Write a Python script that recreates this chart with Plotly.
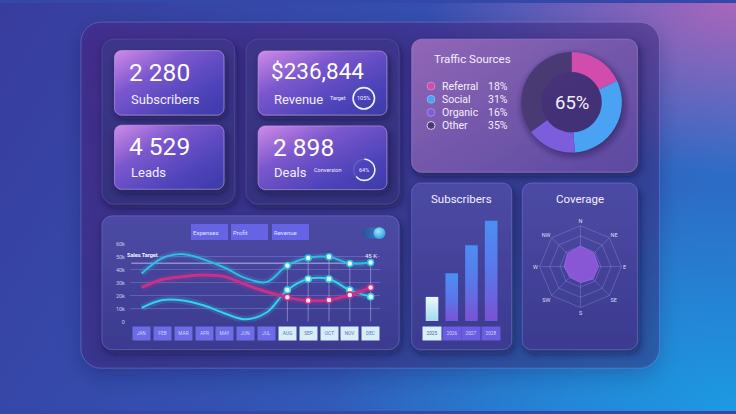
import base64
import plotly.graph_objects as go

W, H = 736, 414

# ---------------- data ----------------
months = ["JAN", "FEB", "MAR", "APR", "MAY", "JUN", "JUL", "AUG", "SEP", "OCT", "NOV", "DEC"]
revenue = [37000, 49000, 52000, 47800, 41500, 33500, 30500, 43300, 49100, 49900, 44800, 45600]
profit = [10600, 16600, 16300, 12400, 6300, 1800, 7000, 24300, 32800, 32800, 24300, 19200]
expenses = [26300, 32400, 34700, 35900, 34700, 28500, 23000, 18700, 16200, 16700, 20500, 26300]
sales_target = 45000
y_tick_vals = [0, 10000, 20000, 30000, 40000, 50000, 60000]
y_tick_text = ["0", "10k", "20k", "30k", "40k", "50k", "60k"]
highlight_start = 7  # AUG..DEC highlighted
series_buttons = ["Expenses", "Profit", "Revenue"]

traffic_labels = ["Referral", "Social", "Organic", "Other"]
traffic_values = [18, 31, 16, 35]
traffic_center = "65%"

years = ["2025", "2026", "2027", "2028"]
subscribers_by_year = [480, 950, 1510, 2000]

directions = ["N", "NE", "E", "SE", "S", "SW", "W", "NW"]
coverage = [50, 46, 44, 43, 39, 37, 40, 45]

kpi_subscribers = "2 280"
kpi_leads = "4 529"
kpi_revenue = "$236,844"
kpi_deals = "2 898"
revenue_target_pct = 105
conversion_pct = 64

# ---------------- helpers ----------------
def px(x):
    return x / W


def py(y):
    return 1 - y / H


FONT = "Roboto, Arial, sans-serif"

# ---------------- decorative background (svg) ----------------
def rr(x, y, w, h, r, fill, extra=""):
    return (f'<rect x="{x}" y="{y}" width="{w}" height="{h}" rx="{r}" ry="{r}" '
            f'fill="{fill}" {extra}/>')


svg = f'''<svg xmlns="http://www.w3.org/2000/svg" width="{W}" height="{H}" viewBox="0 0 {W} {H}">
<defs>
 <linearGradient id="bgLin" x1="0" y1="0" x2="1" y2="0.35">
  <stop offset="0" stop-color="#383c9d"/>
  <stop offset="0.55" stop-color="#3450b1"/>
  <stop offset="1" stop-color="#2d6cc6"/>
 </linearGradient>
 <radialGradient id="bgPink" cx="1" cy="0" r="0.42">
  <stop offset="0" stop-color="#b066bb" stop-opacity="0.95"/>
  <stop offset="1" stop-color="#b066bb" stop-opacity="0"/>
 </radialGradient>
 <radialGradient id="bgBlue" cx="1" cy="1" r="0.55">
  <stop offset="0" stop-color="#1c9ae2" stop-opacity="1"/>
  <stop offset="1" stop-color="#1c9ae2" stop-opacity="0"/>
 </radialGradient>
 <linearGradient id="mainP" x1="0" y1="0" x2="1" y2="1">
  <stop offset="0" stop-color="#4a2888" stop-opacity="0.6"/>
  <stop offset="1" stop-color="#34307a" stop-opacity="0.42"/>
 </linearGradient>
 <linearGradient id="grp" x1="0" y1="0" x2="0" y2="1">
  <stop offset="0" stop-color="#3d3689"/>
  <stop offset="1" stop-color="#35317d"/>
 </linearGradient>
 <linearGradient id="pan" x1="0" y1="0" x2="0" y2="1">
  <stop offset="0" stop-color="#4c4aa4"/>
  <stop offset="1" stop-color="#3b3a8f"/>
 </linearGradient>
 <linearGradient id="traffic" x1="0" y1="0" x2="1" y2="1">
  <stop offset="0" stop-color="#9267b7"/>
  <stop offset="0.5" stop-color="#7357aa"/>
  <stop offset="1" stop-color="#5a4a9f"/>
 </linearGradient>
 <linearGradient id="card" x1="0" y1="0" x2="1" y2="1">
  <stop offset="0" stop-color="#d08ae8"/>
  <stop offset="0.35" stop-color="#7b57cd"/>
  <stop offset="0.7" stop-color="#5044bb"/>
  <stop offset="1" stop-color="#3c3aa8"/>
 </linearGradient>
 <linearGradient id="tog" x1="0" y1="0" x2="1" y2="0">
  <stop offset="0" stop-color="#2c4c9c"/>
  <stop offset="1" stop-color="#3593d0"/>
 </linearGradient>
 <radialGradient id="knob" cx="0.4" cy="0.35" r="0.7">
  <stop offset="0" stop-color="#9fe8ff"/>
  <stop offset="1" stop-color="#2a96dc"/>
 </radialGradient>
 <filter id="sh" x="-30%" y="-30%" width="160%" height="160%">
  <feDropShadow dx="2" dy="4" stdDeviation="4" flood-color="#140c36" flood-opacity="0.55"/>
 </filter>
 <filter id="shBig" x="-20%" y="-20%" width="140%" height="140%">
  <feDropShadow dx="0" dy="8" stdDeviation="10" flood-color="#140c36" flood-opacity="0.45"/>
 </filter>
 <filter id="blur" x="-50%" y="-50%" width="200%" height="200%">
  <feGaussianBlur stdDeviation="3"/>
 </filter>
</defs>
<rect width="{W}" height="{H}" fill="url(#bgLin)"/>
<rect width="{W}" height="{H}" fill="url(#bgPink)"/>
<rect width="{W}" height="{H}" fill="url(#bgBlue)"/>
{rr(81, 19.5, 578.5, 351, 20, "url(#mainP)", 'stroke="#8f8fe6" stroke-opacity="0.35" stroke-width="1" filter="url(#shBig)"')}
{rr(102, 36.7, 132.7, 167.3, 12, "url(#grp)", 'stroke="#6a66c8" stroke-opacity="0.35" filter="url(#sh)"')}
{rr(246, 36.7, 153, 167.3, 12, "url(#grp)", 'stroke="#6a66c8" stroke-opacity="0.35" filter="url(#sh)"')}
{rr(411.7, 36.7, 225.7, 135, 10, "url(#traffic)", 'stroke="#c9a6ff" stroke-opacity="0.35" filter="url(#sh)"')}
{rr(102, 216, 297, 135.7, 10, "url(#pan)", 'stroke="#8f8fff" stroke-opacity="0.35" filter="url(#sh)"')}
{rr(411.7, 182.7, 99.9, 169, 9, "url(#pan)", 'stroke="#8f8fff" stroke-opacity="0.35" filter="url(#sh)"')}
{rr(522.4, 182.7, 115, 169, 9, "url(#pan)", 'stroke="#8f8fff" stroke-opacity="0.35" filter="url(#sh)"')}
{rr(114.5, 48.3, 109.4, 65.4, 7, "url(#card)", 'stroke="#d6b8ff" stroke-opacity="0.45" filter="url(#sh)"')}
{rr(114.5, 124, 109.4, 65, 7, "url(#card)", 'stroke="#d6b8ff" stroke-opacity="0.45" filter="url(#sh)"')}
{rr(258.2, 48.7, 128.6, 65, 7, "url(#card)", 'stroke="#d6b8ff" stroke-opacity="0.45" filter="url(#sh)"')}
{rr(258.2, 124.7, 128.6, 64.6, 7, "url(#card)", 'stroke="#d6b8ff" stroke-opacity="0.45" filter="url(#sh)"')}
<circle cx="573.5" cy="103.5" r="52" fill="#231a4e" fill-opacity="0.55" filter="url(#blur)"/>
{rr(362, 228, 23, 11, 5.5, "url(#tog)")}
<circle cx="379.5" cy="233.5" r="6" fill="url(#knob)"/>
</svg>'''

svg_uri = "data:image/svg+xml;base64," + base64.b64encode(svg.encode("utf-8")).decode("ascii")

fig = go.Figure()

# ---------------- line chart ----------------
x_idx = list(range(len(months)))
hl = x_idx[highlight_start:]

# vertical guide lines for highlighted months
vx, vy = [], []
for i in hl:
    vx += [i, i, None]
    vy += [0, revenue[i], None]
fig.add_trace(go.Scatter(x=vx, y=vy, mode="lines", line=dict(color="rgba(205,215,255,0.45)", width=1),
                         hoverinfo="skip", xaxis="x", yaxis="y"))
# sales target line
fig.add_trace(go.Scatter(x=[-0.5, len(months) - 1], y=[sales_target, sales_target], mode="lines",
                         line=dict(color="rgba(200,200,245,0.55)", width=1.5), hoverinfo="skip",
                         xaxis="x", yaxis="y"))

line_specs = [
    (revenue, "#2cbfe0", 2.0, "#eafcff"),
    (profit, "#33d3ec", 2.0, "#eafcff"),
    (expenses, "#c8318a", 3.0, "#ffe0f2"),
]
for vals, col, wd, mfill in line_specs:
    fig.add_trace(go.Scatter(x=x_idx, y=vals, mode="lines", line=dict(color=col, width=wd + 5, shape="spline", smoothing=1.0),
                             opacity=0.18, hoverinfo="skip", xaxis="x", yaxis="y"))
    fig.add_trace(go.Scatter(x=x_idx, y=vals, mode="lines", line=dict(color=col, width=wd, shape="spline", smoothing=1.0),
                             hoverinfo="skip", xaxis="x", yaxis="y"))
    fig.add_trace(go.Scatter(x=hl, y=[vals[i] for i in hl], mode="markers",
                             marker=dict(size=6, color=mfill, line=dict(color=col, width=1.5)),
                             hoverinfo="skip", xaxis="x", yaxis="y"))

# ---------------- subscriber bars ----------------
half_w = 0.32
for i, v in enumerate(subscribers_by_year):
    if i == 0:
        cs = [[0, "#9cd9ee"], [1, "#e8f8fd"]]
    else:
        cs = [[0, "#7b50d4"], [0.5, "#5b76ea"], [1, "#4c8ef4"]]
    fig.add_trace(go.Scatter(
        x=[i - half_w, i - half_w, i + half_w, i + half_w, i - half_w],
        y=[0, v, v, 0, 0], mode="lines", fill="toself", line=dict(width=0, color="rgba(0,0,0,0)"),
        fillgradient=dict(type="vertical", colorscale=cs, start=0, stop=v),
        hoverinfo="skip", xaxis="x2", yaxis="y2"))

# ---------------- traffic donut ----------------
traffic_colors = ["#d24cae", "#4aa2f2", "#7c5ddc", "#4a3a74"]
fig.add_trace(go.Pie(labels=traffic_labels, values=traffic_values, hole=0.6, sort=False,
                     direction="clockwise", rotation=0, textinfo="none", hoverinfo="skip",
                     marker=dict(colors=traffic_colors, line=dict(width=0)),
                     domain=dict(x=[px(520.6), px(622.6)], y=[py(151.7), py(49.7)])))

# ---------------- small KPI rings ----------------
def ring(pct, cx, cy, r):
    done = min(pct, 100)
    fig.add_trace(go.Pie(values=[done, 100 - done], hole=0.86, sort=False, direction="clockwise",
                         rotation=0, textinfo="none", hoverinfo="skip", showlegend=False,
                         marker=dict(colors=["#e6f3ff", "rgba(255,255,255,0.12)"], line=dict(width=0)),
                         domain=dict(x=[px(cx - r), px(cx + r)], y=[py(cy + r), py(cy - r)])))


ring(revenue_target_pct, 363.8, 96.7, 11.7)
ring(conversion_pct, 364.3, 169.3, 11.5)

# ---------------- coverage radar ----------------
fig.add_trace(go.Scatterpolar(r=coverage + coverage[:1], theta=directions + directions[:1], mode="lines",
                              fill="toself", fillcolor="#8757d6", line=dict(color="#9563e0", width=1),
                              hoverinfo="skip", subplot="polar"))

# ---------------- annotations ----------------
ann = []


def txt(x, y, t, size, color="#f3eeff", xanchor="left", **kw):
    ann.append(dict(x=px(x), y=py(y), xref="paper", yref="paper", text=t, showarrow=False,
                    xanchor=xanchor, yanchor="middle", font=dict(size=size, color=color, family=FONT), **kw))


# KPI cards
txt(126.5, 71, kpi_subscribers, 24.5, "#ffffff")
txt(128.5, 97.5, "Subscribers", 13)
txt(126.5, 146, kpi_leads, 24.5, "#ffffff")
txt(128.5, 171.5, "Leads", 13)
txt(268.5, 69, kpi_revenue, 22.5, "#ffffff")
txt(272, 97.5, "Revenue", 13)
txt(327.5, 96.5, "Target", 5.5)
txt(363.8, 96.7, f"{revenue_target_pct}%", 5.5, xanchor="center")
txt(270.5, 147, kpi_deals, 24.5, "#ffffff")
txt(272, 171.5, "Deals", 13)
txt(311.5, 169.5, "Conversion", 5.5)
txt(364.3, 169.3, f"{conversion_pct}%", 5.5, xanchor="center")

# traffic panel
txt(432, 56.5, "Traffic Sources", 11.5)
row_y = [84.3, 97.7, 111, 124.3]
for lab, val, yy in zip(traffic_labels, traffic_values, row_y):
    txt(440.5, yy, lab, 10.5)
    txt(486.3, yy, f"{val}%", 10.5)
txt(571.6, 101, traffic_center, 18.5, xanchor="center")

# bar / radar panel titles
txt(461.6, 199, "Subscribers", 11.5, xanchor="center")
txt(579.9, 199, "Coverage", 11.5, xanchor="center")

# line chart buttons
btn_x = [190.7, 231.0, 271.7]
for b, bx in zip(series_buttons, btn_x):
    ann.append(dict(x=px(bx), y=py(232.2), xref="paper", yref="paper", text=b, showarrow=False,
                    xanchor="left", yanchor="middle", width=33, height=12, align="left", borderpad=2,
                    bgcolor="#6663e4", bordercolor="#7d7cf0", borderwidth=0,
                    font=dict(size=6, color="#e2e2ff", family=FONT)))

# sales target labels
ann.append(dict(x=px(125), y=sales_target, xref="paper", yref="y", yshift=8, text="<b>Sales Target</b>",
                showarrow=False, xanchor="left", font=dict(size=5.5, color="#f2f2ff", family=FONT)))
ann.append(dict(x=len(months) - 1, y=sales_target, xref="x", yref="y", yshift=8, text=f"{sales_target // 1000} K",
                showarrow=False, xanchor="center", font=dict(size=6, color="#f2f2ff", family=FONT)))

# month buttons
for i, m in enumerate(months):
    on = i >= highlight_start
    ann.append(dict(x=i, y=py(335), xref="x", yref="paper", text=m, showarrow=False,
                    width=17, height=13, borderpad=0, xanchor="center", yanchor="middle",
                    bgcolor="#d6eef9" if on else "#6b6ce6",
                    font=dict(size=4.8, color="#5f78ad" if on else "#cfd2ff", family=FONT)))

# year buttons
for i, yv in enumerate(years):
    first = i == 0
    ann.append(dict(x=i, y=py(335), xref="x2", yref="paper", text=yv, showarrow=False,
                    width=18, height=13, borderpad=0, xanchor="center", yanchor="middle",
                    bgcolor="#d8f0fa" if first else "#6a5de0",
                    font=dict(size=4.8, color="#526494" if first else "#d6d4ff", family=FONT)))

# legend dots for traffic
shapes = []
for col, yy, lab in zip(traffic_colors, row_y, traffic_labels):
    if lab == "Other":
        shapes.append(dict(type="circle", xref="paper", yref="paper", x0=px(427), x1=px(435),
                           y0=py(yy + 4), y1=py(yy - 4), line=dict(color="#d8d0f2", width=1),
                           fillcolor="#4a3a74"))
    else:
        shapes.append(dict(type="circle", xref="paper", yref="paper", x0=px(427), x1=px(435),
                           y0=py(yy + 4), y1=py(yy - 4), line=dict(color="rgba(255,255,255,0.35)", width=0.8),
                           fillcolor=col))

grid = "rgba(175,175,240,0.28)"
fig.update_layout(
    width=W, height=H, margin=dict(l=0, r=0, t=0, b=0),
    paper_bgcolor="#3448aa", plot_bgcolor="rgba(0,0,0,0)",
    showlegend=False, font=dict(family=FONT),
    images=[dict(source=svg_uri, xref="paper", yref="paper", x=0, y=1, sizex=1, sizey=1,
                 xanchor="left", yanchor="top", sizing="stretch", layer="below")],
    xaxis=dict(domain=[px(130), px(380)], range=[-0.56, 11.45], visible=False, fixedrange=True),
    yaxis=dict(domain=[py(323.3), py(244.3)], range=[0, 60000], tickvals=y_tick_vals, ticktext=y_tick_text,
               showgrid=True, gridcolor=grid, gridwidth=1, zeroline=False, showline=False,
               ticks="outside", ticklen=3, tickcolor="rgba(0,0,0,0)",
               tickfont=dict(size=5.5, color="#c9c9f2", family=FONT), fixedrange=True),
    xaxis2=dict(domain=[px(420), px(503)], range=[-0.61, 3.6], visible=False, anchor="y2", fixedrange=True),
    yaxis2=dict(domain=[py(322.7), py(220.7)], range=[0, 2000], visible=False, anchor="x2", fixedrange=True),
    polar=dict(
        domain=dict(x=[px(539), px(622)], y=[py(309), py(226)]),
        bgcolor="rgba(0,0,0,0)", gridshape="linear",
        angularaxis=dict(categoryarray=directions, type="category", direction="clockwise", rotation=90,
                         showline=True, linecolor=grid, gridcolor=grid, ticks="",
                         tickfont=dict(size=5.5, color="#dcdcfa", family=FONT)),
        radialaxis=dict(range=[0, 100], tickvals=[25, 50, 75, 100], showticklabels=False, ticks="",
                        showline=False, gridcolor=grid),
    ),
    annotations=ann, shapes=shapes,
)

fig.write_html("out.html", config={"displayModeBar": False})
